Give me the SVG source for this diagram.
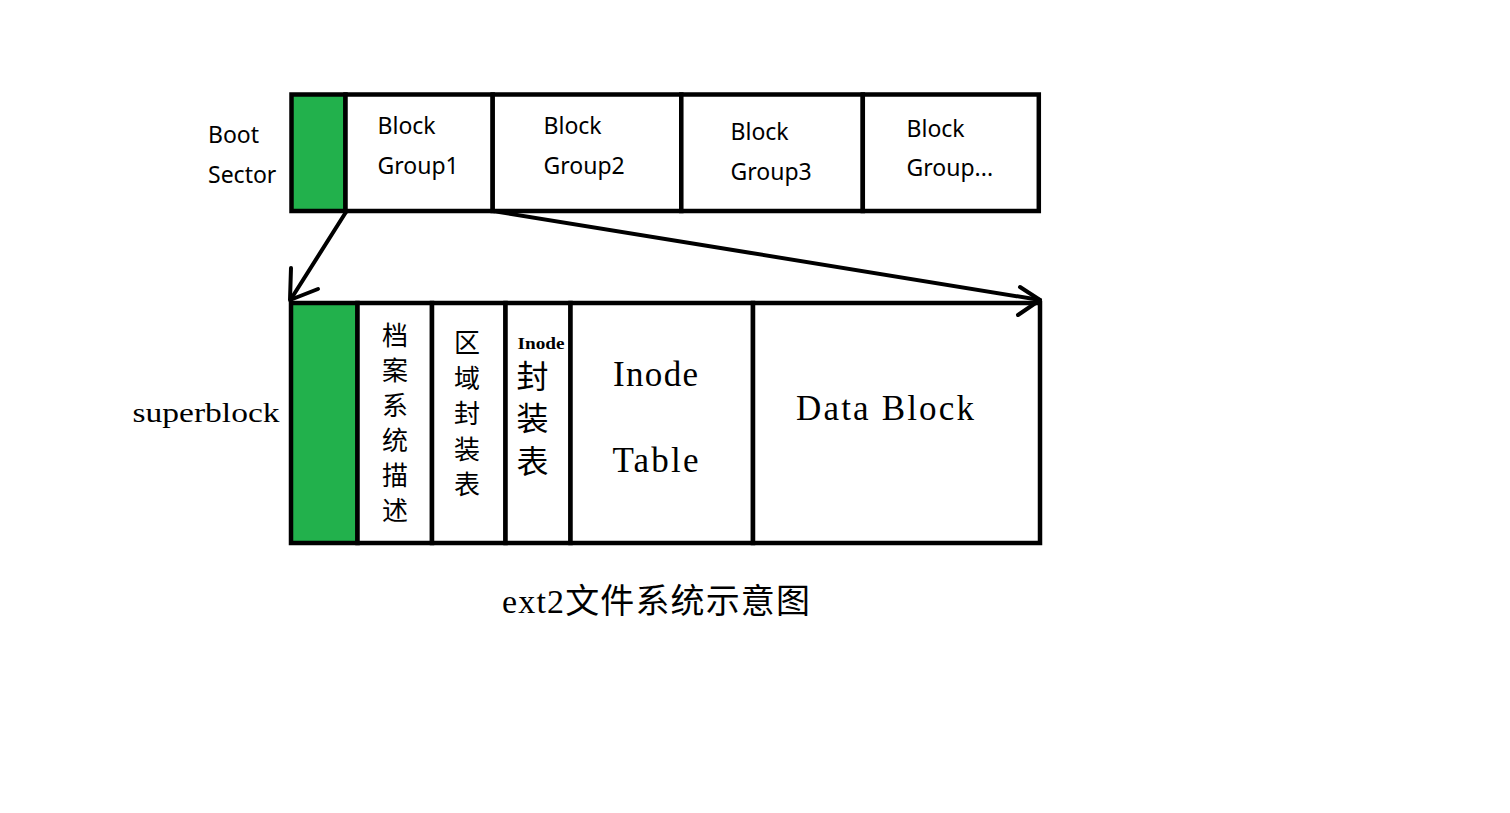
<svg xmlns="http://www.w3.org/2000/svg" width="1510" height="813" viewBox="0 0 1510 813">
<style>
.cell{fill:#fff;stroke:#000;stroke-width:4.5}
.green{fill:#22b14c;stroke:#000;stroke-width:4.5}
.sans{font-family:"Noto Sans","Open Sans","Liberation Sans",sans-serif;font-size:23px;fill:#000}
.serif{font-family:"Liberation Serif","Noto Sans CJK SC",serif;fill:#000}
.cjk{font-family:"Noto Sans CJK SC","Noto Sans CJK TC",sans-serif;fill:#000;text-anchor:middle}
.conn{fill:none;stroke:#000;stroke-width:4;stroke-linecap:round;stroke-linejoin:round}
</style>
<rect width="1510" height="813" fill="#fff"/>

<g id="boot-sector">
<rect class="green" x="291.5" y="94.5" width="54" height="116.5"/>
<text class="sans" x="208" y="142.5">Boot</text>
<text class="sans" x="208" y="182.5">Sector</text>
</g>
<g id="block-group-1">
<rect class="cell" x="345.5" y="94.5" width="147.2" height="116.5"/>
<text class="sans" x="377.5" y="134">Block</text>
<text class="sans" x="377.5" y="174">Group1</text>
</g>
<g id="block-group-2">
<rect class="cell" x="492.7" y="94.5" width="188.6" height="116.5"/>
<text class="sans" x="543.5" y="134">Block</text>
<text class="sans" x="543.5" y="174">Group2</text>
</g>
<g id="block-group-3">
<rect class="cell" x="681.3" y="94.5" width="181.5" height="116.5"/>
<text class="sans" x="730.5" y="140">Block</text>
<text class="sans" x="730.5" y="180">Group3</text>
</g>
<g id="block-group-n">
<rect class="cell" x="862.8" y="94.5" width="176" height="116.5"/>
<text class="sans" x="906.5" y="137">Block</text>
<text class="sans" x="906.5" y="176">Group...</text>
</g>

<g id="superblock">
<rect class="green" x="291" y="303" width="66.5" height="240"/>
<text class="serif" x="132.5" y="422" font-size="27" textLength="147" lengthAdjust="spacingAndGlyphs">superblock</text>
</g>
<g id="fs-descriptor">
<rect class="cell" x="357.5" y="303" width="74.5" height="240"/>
<text class="cjk" font-size="26" x="395" y="345">档</text>
<text class="cjk" font-size="26" x="395" y="380">案</text>
<text class="cjk" font-size="26" x="395" y="415">系</text>
<text class="cjk" font-size="26" x="395" y="450">统</text>
<text class="cjk" font-size="26" x="395" y="485">描</text>
<text class="cjk" font-size="26" x="395" y="520">述</text>
</g>
<g id="block-bitmap">
<rect class="cell" x="432" y="303" width="73.5" height="240"/>
<text class="cjk" font-size="26" x="467" y="352">区</text>
<text class="cjk" font-size="26" x="467" y="387.5">域</text>
<text class="cjk" font-size="26" x="467" y="423">封</text>
<text class="cjk" font-size="26" x="467" y="458.5">装</text>
<text class="cjk" font-size="26" x="467" y="494">表</text>
</g>
<g id="inode-bitmap">
<rect class="cell" x="505.5" y="303" width="65" height="240"/>
<text class="serif" x="517.5" y="349" font-size="16" font-weight="bold" textLength="47" lengthAdjust="spacingAndGlyphs">Inode</text>
<text class="cjk" font-size="32" x="532.5" y="388">封</text>
<text class="cjk" font-size="32" x="532.5" y="430">装</text>
<text class="cjk" font-size="32" x="532.5" y="473">表</text>
</g>
<g id="inode-table">
<rect class="cell" x="570.5" y="303" width="182.5" height="240"/>
<text class="serif" x="613" y="386" font-size="35" textLength="85" lengthAdjust="spacing">Inode</text>
<text class="serif" x="612.5" y="472" font-size="35" textLength="86" lengthAdjust="spacing">Table</text>
</g>
<g id="data-block">
<rect class="cell" x="753" y="303" width="287" height="240"/>
<text class="serif" x="796" y="419.5" font-size="35" textLength="178" lengthAdjust="spacing">Data Block</text>
</g>

<g id="connectors">
<path class="conn" d="M346,212 L291,299"/>
<path class="conn" d="M291,268 L290,300 L318,289"/>
<path class="conn" d="M493,211 L1040,300"/>
<path class="conn" d="M1020,287 L1040,300 L1018,315"/>
</g>

<g id="title">
<text class="serif" x="502" y="613" font-size="34" textLength="308" lengthAdjust="spacing">ext2文件系统示意图</text>
</g>
</svg>
